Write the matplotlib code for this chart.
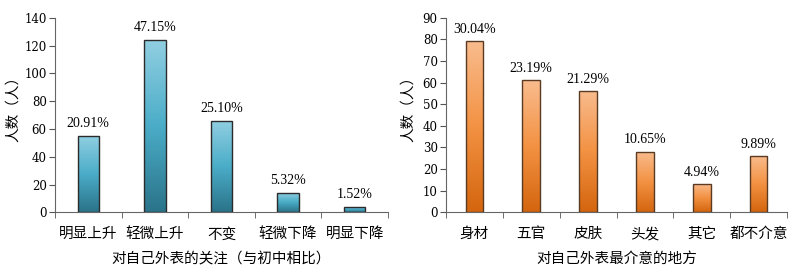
import numpy as np
import matplotlib
matplotlib.use("Agg")
import matplotlib.pyplot as plt
from matplotlib.colors import LinearSegmentedColormap

plt.rcParams['font.family'] = ['Liberation Serif', 'Noto Sans CJK SC']

# Data
cats1 = ['明显上升', '轻微上升', '不变', '轻微下降', '明显下降']
vals1 = [55, 124, 66, 14, 4]
pct1 = ['20.91%', '47.15%', '25.10%', '5.32%', '1.52%']
xlabel1 = '对自己外表的关注（与初中相比）'
yticks1 = [0, 20, 40, 60, 80, 100, 120, 140]

cats2 = ['身材', '五官', '皮肤', '头发', '其它', '都不介意']
vals2 = [79, 61, 56, 28, 13, 26]
pct2 = ['30.04%', '23.19%', '21.29%', '10.65%', '4.94%', '9.89%']
xlabel2 = '对自己外表最介意的地方'
yticks2 = [0, 10, 20, 30, 40, 50, 60, 70, 80, 90]

ylabel = '人数（人）'

blue = LinearSegmentedColormap.from_list('b', ['#2a7389', '#4badc8', '#92cfe2'])
orange = LinearSegmentedColormap.from_list('o', ['#d4650e', '#f39243', '#f9bc8e'])

fig = plt.figure(figsize=(8, 2.71), dpi=100)

def draw(ax, cats, vals, pcts, yt, cmap, edge, xlabel, width, ylx):
    n = len(cats)
    x = np.arange(n)
    bars = ax.bar(x, vals, width=width, color='none', edgecolor=edge, linewidth=1.0, zorder=3)
    grad = np.linspace(0, 1, 256).reshape(-1, 1)
    for b in bars:
        x0, y0 = b.get_x(), b.get_y()
        w, h = b.get_width(), b.get_height()
        im = ax.imshow(grad, cmap=cmap, aspect='auto', origin='lower',
                       extent=[x0, x0 + w, y0, y0 + h], zorder=2)
        im.set_clip_path(b)
    for xi, v, p in zip(x, vals, pcts):
        ax.annotate(p, (xi, v), xytext=(0, 4), textcoords='offset points',
                    ha='center', va='bottom', fontsize=10)
    ax.set_xlim(-0.5, n - 0.5)
    ax.set_ylim(yt[0], yt[-1])
    ax.set_yticks(yt)
    ax.set_yticklabels([str(t) for t in yt], family=['DejaVu Serif'], fontsize=8.5)
    ax.tick_params(axis='y', length=4, color='#555555', pad=2)
    ax.set_xticks(x)
    ax.set_xticklabels(cats, fontsize=10.5)
    ax.tick_params(axis='x', length=0, pad=11)
    ax.set_xticks(np.arange(n + 1) - 0.5, minor=True)
    ax.tick_params(axis='x', which='minor', length=4, color='#555555')
    for s in ['top', 'right']:
        ax.spines[s].set_visible(False)
    for s in ['left', 'bottom']:
        ax.spines[s].set_color('#666666')
    ax.set_xlabel(xlabel, fontsize=10.5, labelpad=8)
    ax.set_ylabel(ylabel, fontsize=10.5)
    ax.yaxis.set_label_coords(ylx, 0.55)

ax1 = fig.add_axes([55 / 800, (271 - 212.3) / 271, 333 / 800, 194.6 / 271])
draw(ax1, cats1, vals1, pct1, yticks1, blue, '#2b2b2b', xlabel1, 0.32, -0.104)
ax2 = fig.add_axes([446 / 800, (271 - 212.3) / 271, 341 / 800, 194.6 / 271])
draw(ax2, cats2, vals2, pct2, yticks2, orange, '#5a3a22', xlabel2, 0.31, -0.092)

fig.savefig('out.png', dpi=100)
